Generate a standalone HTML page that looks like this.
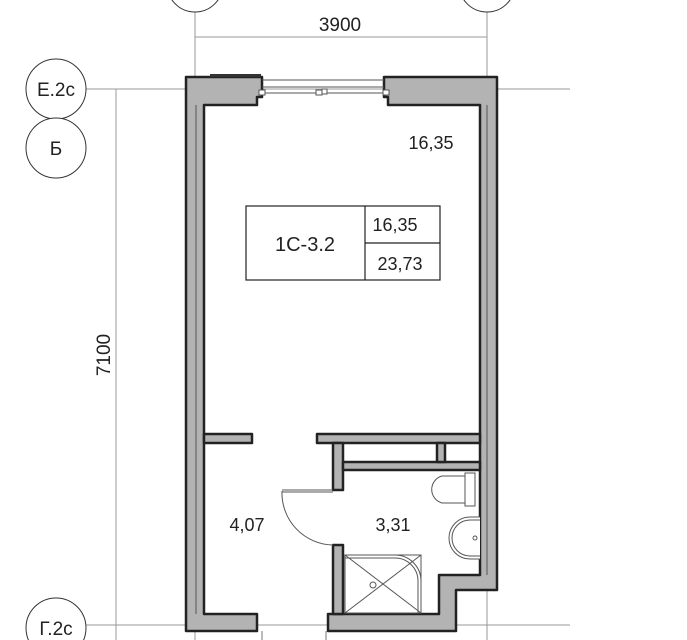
<!DOCTYPE html><html><head><style>body{margin:0;background:#fff}svg{display:block}text{font-family:"Liberation Sans","DejaVu Sans",sans-serif;fill:#222}</style></head><body>
<svg width="687" height="640" viewBox="0 0 687 640" xmlns="http://www.w3.org/2000/svg">
<g stroke="#999" stroke-width="1" fill="none">
<line x1="195" y1="0" x2="195" y2="640"/><line x1="487" y1="0" x2="487" y2="640"/>
<line x1="195" y1="37" x2="487" y2="37"/>
<line x1="86" y1="89" x2="570" y2="89"/><line x1="86" y1="625" x2="570" y2="625"/>
<line x1="116" y1="89" x2="116" y2="640"/>
</g>
<g stroke="#333" stroke-width="1" fill="#fff">
<circle cx="56" cy="89" r="30"/><circle cx="56" cy="148" r="30"/><circle cx="56" cy="628" r="30"/>
<circle cx="195" cy="-16" r="28"/><circle cx="487" cy="-16" r="28"/>
</g>
<text x="56" y="96" font-size="19" text-anchor="middle">Е.2с</text>
<text x="56" y="155" font-size="19" text-anchor="middle">Б</text>
<text x="56" y="635" font-size="19" text-anchor="middle">Г.2с</text>
<text x="340" y="31" font-size="19" text-anchor="middle">3900</text>
<text x="0" y="0" font-size="19" text-anchor="middle" transform="translate(110,355) rotate(-90)">7100</text>
<g fill="#b3b3b3" stroke="#222" stroke-width="2.5" stroke-linejoin="round">
<path d="M186 77 H262 V97 H257 V105 H204 V614 H257 V631 H186 Z"/>
<path d="M384 77 H497 V590 H456 V631 H328 V614 H439 V575 H480 V105 H388 V97 H384 Z"/>
<rect x="204" y="434" width="48" height="9"/>
<rect x="317" y="434" width="163" height="9"/>
<rect x="333" y="443" width="10" height="47"/>
<rect x="343" y="462" width="137" height="8"/>
<rect x="437" y="443" width="8" height="19"/>
<rect x="333" y="545" width="10" height="69"/>
</g>
<rect x="210" y="74" width="51" height="3" fill="#333"/>
<g stroke="#555" stroke-width="1" fill="none">
<line x1="196" y1="105" x2="196" y2="614"/><line x1="487" y1="105" x2="487" y2="575"/>
<line x1="262" y1="80" x2="384" y2="80"/><line x1="262" y1="87" x2="384" y2="87"/><line x1="262" y1="93" x2="384" y2="93"/>
<rect x="259" y="90" width="6" height="5" fill="#fff"/><rect x="316" y="90" width="6" height="5" fill="#fff"/><rect x="322" y="89" width="5" height="5" fill="#fff"/><rect x="383" y="90" width="6" height="5" fill="#fff"/>
<line x1="282" y1="490" x2="333" y2="490"/><line x1="282" y1="492" x2="333" y2="492"/>
<path d="M282 491 A52 52 0 0 0 333 545"/>
<rect x="345" y="555" width="76" height="58"/>
<path d="M345 555 H395 A26 26 0 0 1 421 581 V613"/><path d="M345 558 H395 A23 23 0 0 1 418 581 V613"/>
<line x1="345" y1="555" x2="421" y2="613"/><line x1="421" y1="555" x2="345" y2="613"/>
<circle cx="373" cy="585" r="3" fill="#fff"/>
<path d="M465 476 H442 A14 14 0 0 0 442 503 H465 Z" fill="#fff"/>
<rect x="465" y="473" width="10" height="33" fill="#fff"/>
<path d="M480 517 H470 A18 18 0 0 0 470 559 H480" fill="#fff"/>
<path d="M480 520 H470 A15 15 0 0 0 470 556 H480"/>
<circle cx="475" cy="538" r="2"/>
</g>
<g stroke="#222" stroke-width="1.2" fill="#fff">
<rect x="246" y="206" width="194" height="74"/>
<line x1="365" y1="206" x2="365" y2="280"/><line x1="365" y1="243" x2="440" y2="243"/>
</g>
<text x="305" y="251" font-size="20" text-anchor="middle">1С-3.2</text>
<text x="395" y="231" font-size="18" text-anchor="middle">16,35</text>
<text x="400" y="270" font-size="18" text-anchor="middle">23,73</text>
<text x="431" y="149" font-size="18" text-anchor="middle">16,35</text>
<text x="247" y="531" font-size="18" text-anchor="middle">4,07</text>
<text x="393" y="531" font-size="18" text-anchor="middle">3,31</text>
<g stroke="#777" stroke-width="1" fill="none"><line x1="262" y1="631" x2="262" y2="640"/><line x1="326" y1="631" x2="326" y2="640"/></g>
</svg></body></html>
